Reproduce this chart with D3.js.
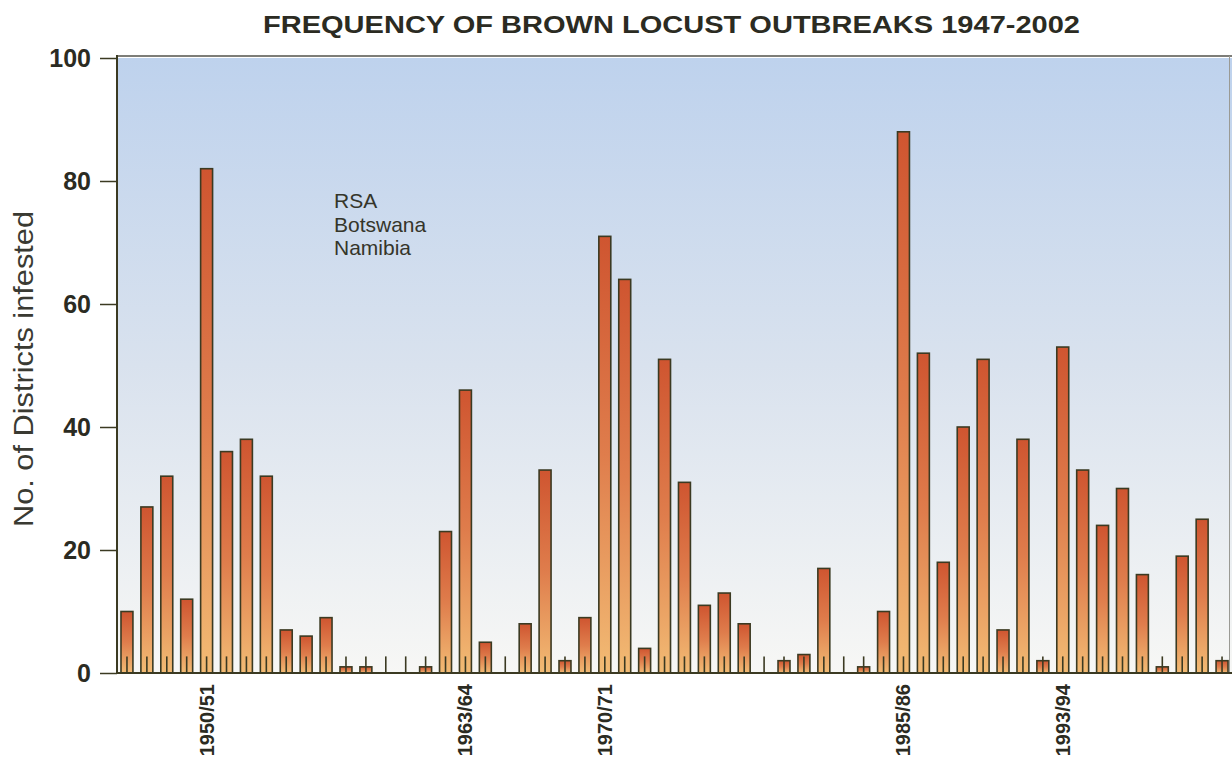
<!DOCTYPE html>
<html>
<head>
<meta charset="utf-8">
<script src="https://cdn.jsdelivr.net/npm/d3@7"></script>
<style>
  html, body { margin: 0; padding: 0; background: #ffffff; }
  svg { display: block; }
</style>
</head>
<body>
<svg id="chart" width="1232" height="759"></svg>
<script>
// ---- data ----
const seasons = [
  "1946/47","1947/48","1948/49","1949/50","1950/51","1951/52","1952/53","1953/54",
  "1954/55","1955/56","1956/57","1957/58","1958/59","1959/60","1960/61","1961/62",
  "1962/63","1963/64","1964/65","1965/66","1966/67","1967/68","1968/69","1969/70",
  "1970/71","1971/72","1972/73","1973/74","1974/75","1975/76","1976/77","1977/78",
  "1978/79","1979/80","1980/81","1981/82","1982/83","1983/84","1984/85","1985/86",
  "1986/87","1987/88","1988/89","1989/90","1990/91","1991/92","1992/93","1993/94",
  "1994/95","1995/96","1996/97","1997/98","1998/99","1999/00","2000/01","2001/02"
];
const rsaValues = [
  10, 27, 32, 12, 82, 36, 38, 32,
  7, 6, 9, 1, 1, 0, 0, 1,
  23, 46, 5, 0, 8, 33, 2, 9,
  71, 64, 4, 51, 31, 11, 13, 8,
  0, 2, 3, 17, 0, 1, 10, 88,
  52, 18, 40, 51, 7, 38, 2, 53,
  33, 24, 30, 16, 1, 19, 25, 2
];
const markerValues = [
  2.7,2.7,2.7,2.7,2.7,2.7,2.7,2.7,2.7,2.7,2.7,2.7,2.7,2.7,2.7,2.7,
  2.7,2.7,2.7,2.7,2.7,2.7,2.7,2.7,2.7,2.7,2.7,2.7,2.7,2.7,2.7,2.7,
  2.7,2.7,2.7,2.7,2.7,2.7,2.7,2.7,2.7,2.7,2.7,2.7,2.7,2.7,2.7,2.7,
  2.7,2.7,2.7,2.7,2.7,2.7,2.7,2.7
];
const labelledSeasons = ["1950/51","1963/64","1970/71","1985/86","1993/94"];
const yTicks = [0, 20, 40, 60, 80, 100];
const legendItems = ["RSA", "Botswana", "Namibia"];
const titleText = "FREQUENCY OF BROWN LOCUST OUTBREAKS 1947-2002";
const yAxisTitle = "No. of Districts infested";

// ---- layout ----
const svg = d3.select("#chart");
const mLeft = 117, mRight = 1232, mTop = 58, mBottom = 673;

const x = d3.scaleBand().domain(seasons).range([mLeft, mRight]).paddingInner(0.4).paddingOuter(0.2);
const y = d3.scaleLinear().domain([0, 100]).range([mBottom, mTop]);

const defs = svg.append("defs");
const bg = defs.append("linearGradient").attr("id", "bgGrad").attr("x1", 0).attr("y1", 0).attr("x2", 0).attr("y2", 1);
bg.append("stop").attr("offset", "0%").attr("stop-color", "#bed2ed");
bg.append("stop").attr("offset", "50%").attr("stop-color", "#d9e2ee");
bg.append("stop").attr("offset", "100%").attr("stop-color", "#f7f7f5");

const barGrad = defs.append("linearGradient").attr("id", "barGrad")
  .attr("x1", 0).attr("y1", 0).attr("x2", 0).attr("y2", 1);
barGrad.append("stop").attr("offset", "0%").attr("stop-color", "#cf5530");
barGrad.append("stop").attr("offset", "50%").attr("stop-color", "#df7d4c");
barGrad.append("stop").attr("offset", "100%").attr("stop-color", "#f2bb74");

// plot background
svg.append("rect")
  .attr("x", mLeft).attr("y", mTop)
  .attr("width", mRight - mLeft).attr("height", mBottom - mTop)
  .attr("fill", "url(#bgGrad)");

// frame top / right
svg.append("line").attr("x1", mLeft).attr("x2", mRight).attr("y1", mTop - 2).attr("y2", mTop - 2)
  .attr("stroke", "#7d7d78").attr("stroke-width", 2);
svg.append("line").attr("x1", 1229.5).attr("x2", 1229.5).attr("y1", mTop - 2).attr("y2", mBottom)
  .attr("stroke", "#9a9a94").attr("stroke-width", 1);

// bars
svg.append("g").selectAll("rect")
  .data(seasons.map((s, i) => ({ s, v: rsaValues[i] })).filter(d => d.v > 0))
  .join("rect")
  .attr("x", d => x(d.s))
  .attr("y", d => y(d.v))
  .attr("width", x.bandwidth())
  .attr("height", d => y(0) - y(d.v))
  .attr("fill", "url(#barGrad)")
  .attr("stroke", "#3b3a22")
  .attr("stroke-width", 1.6);

// small marker lines
svg.append("g").selectAll("line")
  .data(seasons.map((s, i) => ({ s, v: markerValues[i] })))
  .join("line")
  .attr("x1", d => x(d.s) + x.bandwidth() / 2)
  .attr("x2", d => x(d.s) + x.bandwidth() / 2)
  .attr("y1", d => y(d.v))
  .attr("y2", y(0))
  .attr("stroke", "#3b3a22")
  .attr("stroke-width", 1.6);

// y axis
const yAxis = svg.append("g")
  .attr("transform", `translate(${mLeft},0)`)
  .call(d3.axisLeft(y).tickValues(yTicks).tickSize(17).tickPadding(9));
yAxis.select(".domain").attr("stroke", "#3b3a22").attr("stroke-width", 2)
  .attr("d", `M0,${mBottom}V${mTop - 3}`);
yAxis.selectAll(".tick line").attr("stroke", "#3b3a22").attr("stroke-width", 1.5);
yAxis.selectAll(".tick text")
  .attr("fill", "#2b2b22")
  .style("font-family", "'Liberation Sans', Arial, sans-serif")
  .style("font-size", "25px")
  .style("font-weight", "bold")
  .attr("dy", "0.35em");

// x axis (baseline)
const xAxis = svg.append("g")
  .attr("transform", `translate(0,${mBottom})`)
  .call(d3.axisBottom(x).tickValues(labelledSeasons).tickSize(0).tickPadding(0));
xAxis.select(".domain").attr("stroke", "#3b3a22").attr("stroke-width", 2)
  .attr("d", `M${mLeft},0H${mRight}`);
xAxis.selectAll(".tick text")
  .attr("fill", "#2b2b22")
  .style("font-family", "'Liberation Sans', Arial, sans-serif")
  .style("font-size", "20px")
  .style("font-weight", "bold")
  .attr("transform", "rotate(-90)")
  .attr("text-anchor", "end")
  .attr("x", -11)
  .attr("y", 0)
  .attr("dy", "0.35em");

// title
svg.append("text")
  .attr("x", 263).attr("y", 33)
  .attr("textLength", 817).attr("lengthAdjust", "spacingAndGlyphs")
  .attr("fill", "#2b2b22")
  .style("font-family", "'Liberation Sans', Arial, sans-serif")
  .style("font-size", "24px")
  .style("font-weight", "bold")
  .text(titleText);

// y axis title
svg.append("text")
  .attr("transform", `translate(33,${369}) rotate(-90)`)
  .attr("text-anchor", "middle")
  .attr("textLength", 316).attr("lengthAdjust", "spacingAndGlyphs")
  .attr("fill", "#3a3a32")
  .style("font-family", "'Liberation Sans', Arial, sans-serif")
  .style("font-size", "28px")
  .text(yAxisTitle);

// legend text
svg.append("g").selectAll("text")
  .data(legendItems)
  .join("text")
  .attr("x", 334)
  .attr("y", (d, i) => 208 + i * 23.5)
  .attr("fill", "#35352a")
  .style("font-family", "'Liberation Sans', Arial, sans-serif")
  .style("font-size", "21px")
  .text(d => d);
</script>
</body>
</html>
